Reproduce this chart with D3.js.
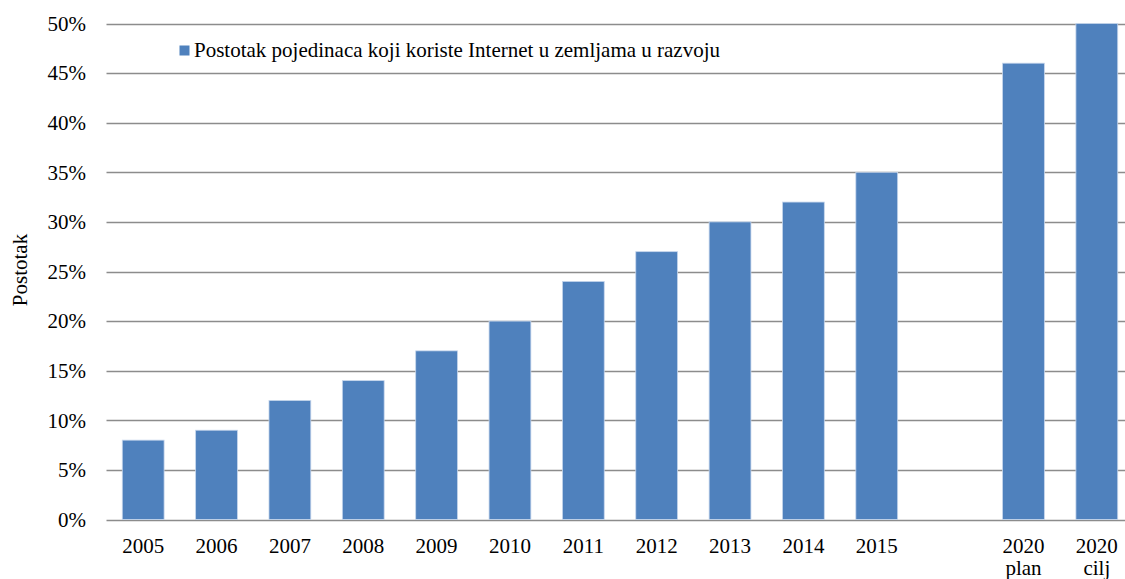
<!DOCTYPE html>
<html><head><meta charset="utf-8">
<script src="https://cdn.jsdelivr.net/npm/d3@7"></script>
<style>body{margin:0;background:#fff}svg{display:block}</style>
</head><body>
<svg id="c" width="1125" height="579"></svg>
<script>
const categories = ["2005","2006","2007","2008","2009","2010","2011","2012","2013","2014","2015","","2020\nplan","2020\ncilj"];
const values = [8,9,12,14,17,20,24,27,30,32,35,null,46,50];
const yTicks = [0,5,10,15,20,25,30,35,40,45,50];
const seriesName = "Postotak pojedinaca koji koriste Internet u zemljama u razvoju";
const yTitle = "Postotak";

const svg = d3.select("#c");
const font = "'Liberation Serif','Times New Roman',serif";
const fs = 21;
const pLeft = 106.5, pRight = 1133.5, pTop = 23.5, pBottom = 519.5;
const x = d3.scaleBand().domain(d3.range(categories.length)).range([pLeft, pRight]).paddingInner(0.43).paddingOuter(0.215);
const y = d3.scaleLinear().domain([0,50]).range([pBottom, pTop]);

svg.append("g").selectAll("line").data(yTicks).join("line")
  .attr("x1", pLeft).attr("x2", 1125)
  .attr("y1", d => Math.round(y(d)) + 0.5).attr("y2", d => Math.round(y(d)) + 0.5)
  .attr("stroke", "#8c8c8c").attr("stroke-width", 1.3);

svg.append("g").selectAll("text").data(yTicks).join("text")
  .attr("x", 86).attr("y", d => y(d)).attr("dy", "0.35em")
  .attr("text-anchor", "end").attr("font-family", font).attr("font-size", fs).attr("fill", "#000")
  .text(d => d + "%");

svg.append("g").selectAll("rect").data(values.map((v,i)=>({v,i})).filter(d => d.v != null)).join("rect")
  .attr("x", d => x(d.i)).attr("width", x.bandwidth())
  .attr("y", d => y(d.v)).attr("height", d => y(0) - y(d.v))
  .attr("fill", "#4f81bd").attr("stroke", "#c6d6ec").attr("stroke-width", 0.8);

const xl = svg.append("g").selectAll("text").data(categories.map((c,i)=>({c,i}))).join("text")
  .attr("text-anchor", "middle").attr("font-family", font).attr("font-size", fs).attr("fill", "#000")
  .attr("x", d => x(d.i) + x.bandwidth()/2).attr("y", 553);
xl.each(function(d){
  const parts = d.c.split("\n");
  d3.select(this).selectAll("tspan").data(parts).join("tspan")
    .attr("x", x(d.i) + x.bandwidth()/2).attr("dy", (p,k) => k === 0 ? 0 : 22).text(p => p);
});

svg.append("text").attr("transform", "translate(27,270) rotate(-90)")
  .attr("text-anchor", "middle").attr("font-family", font).attr("font-size", fs).text(yTitle);

svg.append("rect").attr("x", 179.5).attr("y", 45.5).attr("width", 10).attr("height", 10).attr("fill", "#4f81bd");
svg.append("text").attr("x", 194).attr("y", 56.5).attr("font-family", font).attr("font-size", fs).text(seriesName);
</script>
</body></html>
